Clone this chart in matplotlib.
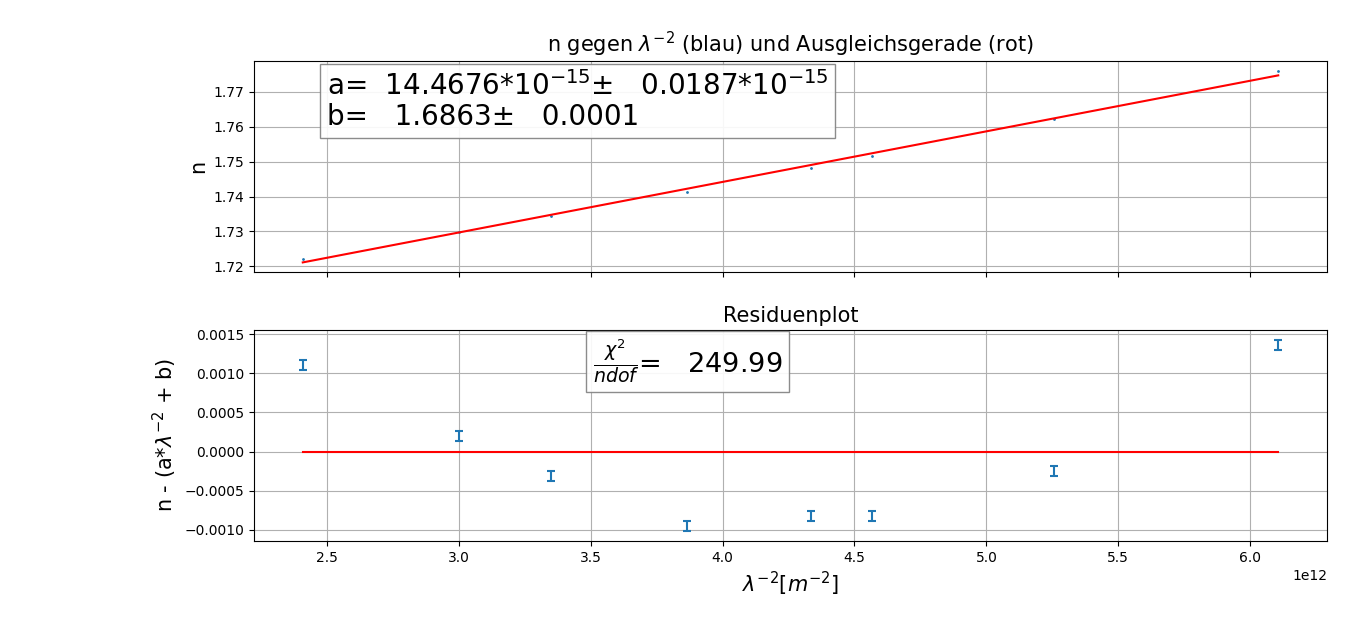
import numpy as np
import matplotlib
matplotlib.use("Agg")
import matplotlib.pyplot as plt

# data (lambda^-2 in m^-2, refractive index n)
lam_inv2 = np.array([2.409, 3.003, 3.348, 3.864, 4.337, 4.568, 5.258, 6.106]) * 1e12
n_vals = np.array([1.722267, 1.729951, 1.734418, 1.741243, 1.748216, 1.751558, 1.762115, 1.776009])
n_err = np.array([0.000064] * 8)

a_fit = 14.4676e-15
a_err = 0.0187e-15
b_fit = 1.6863
b_err = 0.0001
chi2_ndof = 249.99

fit_line = a_fit * lam_inv2 + b_fit
residuals = n_vals - fit_line

fig = plt.figure(figsize=(13.66, 6.37), dpi=100)
ax1 = fig.add_axes([254/1366, 1-272/637, (1327-254)/1366, (272-61)/637])
ax2 = fig.add_axes([254/1366, 1-541/637, (1327-254)/1366, (541-330)/637], sharex=ax1)

ax1.plot(lam_inv2, n_vals, '.', color='C0', markersize=2)
ax1.plot(lam_inv2, fit_line, '-', color='red')
ax1.set_title(r'n gegen $\lambda^{-2}$ (blau) und Ausgleichsgerade (rot)', fontsize=15)
ax1.set_ylabel('n', fontsize=15)
ax1.grid(True)
ax1.tick_params(labelbottom=False)
ax1.xaxis.get_offset_text().set_visible(False)
ax1.text(0.068, 0.953,
         'a=  %.4f*10$^{-15}$±   %.4f*10$^{-15}$\nb=   %.4f±   %.4f' % (a_fit*1e15, a_err*1e15, b_fit, b_err),
         transform=ax1.transAxes, fontsize=20, va='top', ha='left', linespacing=1.12,
         bbox=dict(boxstyle='square,pad=0.25', facecolor='white', edgecolor='gray', alpha=0.9), zorder=5)

ax2.errorbar(lam_inv2, residuals, yerr=n_err, fmt='none', ecolor='C0',
             capsize=3, elinewidth=1.5, capthick=1.5)
ax2.plot(lam_inv2, np.zeros_like(lam_inv2), '-', color='red')
ax2.set_title('Residuenplot', fontsize=15)
ax2.set_ylabel(r'n - (a*$\lambda^{-2}$ + b)', fontsize=15)
ax2.set_xlabel(r'$\lambda^{-2} [m^{-2}]$', fontsize=15)
ax2.grid(True)
ax2.text(0.316, 0.965, r'$\frac{\chi^2}{ndof}$=   %.2f' % chi2_ndof,
         transform=ax2.transAxes, fontsize=19.5, va='top', ha='left',
         bbox=dict(boxstyle='square,pad=0.25', facecolor='white', edgecolor='gray', alpha=0.9), zorder=5)

fig.savefig('out.png', dpi=100)
